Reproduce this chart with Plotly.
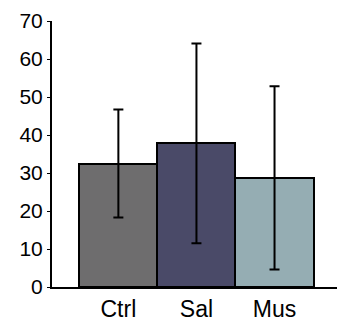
import plotly.graph_objects as go

# Group means and error magnitudes
groups = ["Ctrl", "Sal", "Mus"]
means = [32.5, 37.8, 28.7]
errors = [14.2, 26.3, 24.1]
bar_colors = ["#6e6d6e", "#4a4a68", "#95adb3"]

y_ticks = [0, 10, 20, 30, 40, 50, 60, 70]

fig = go.Figure()
fig.add_trace(go.Bar(
    x=groups,
    y=means,
    marker=dict(color=bar_colors, line=dict(color="#000000", width=2)),
    error_y=dict(type="data", array=errors, visible=True,
                 color="#000000", thickness=2, width=5),
    width=1,
))

fig.update_layout(
    width=337,
    height=325,
    margin=dict(l=52, r=0, t=21, b=38),
    paper_bgcolor="white",
    plot_bgcolor="white",
    bargap=0,
    showlegend=False,
    font=dict(family="Liberation Sans, Arial, sans-serif", size=21, color="#000000"),
)
fig.update_xaxes(
    type="category",
    range=[-0.85, 2.8],
    showline=True,
    linecolor="#000000",
    linewidth=2,
    showgrid=False,
    ticks="",
    zeroline=False,
    tickfont=dict(size=23),
)
fig.update_yaxes(
    range=[0, 70],
    tickvals=y_ticks,
    showline=True,
    linecolor="#000000",
    linewidth=2,
    showgrid=False,
    ticks="outside",
    ticklen=3,
    tickwidth=1,
    tickcolor="#000000",
    zeroline=False,
    tickfont=dict(size=21),
)

fig.write_html("out.html")
